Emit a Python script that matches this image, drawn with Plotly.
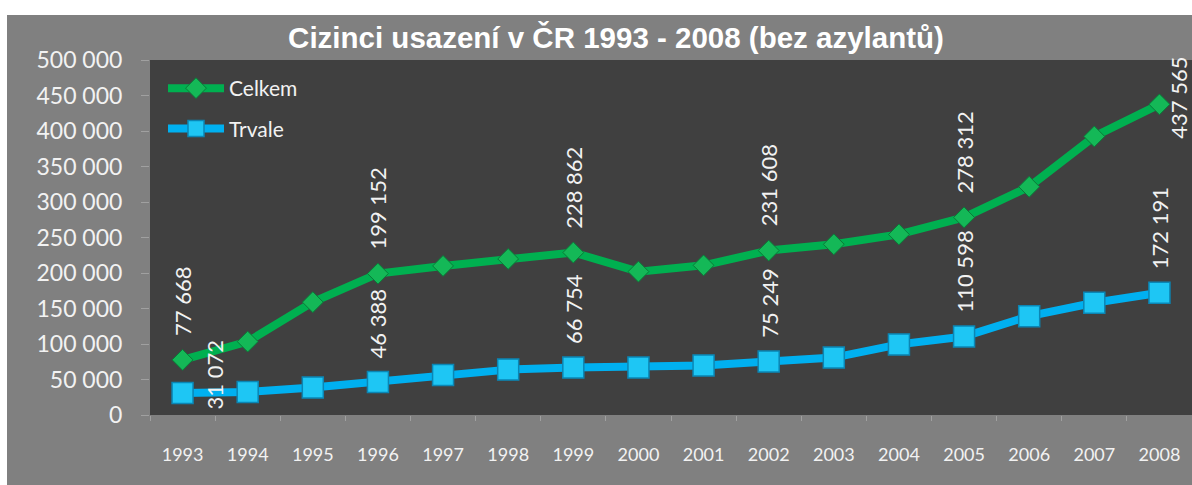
import plotly.graph_objects as go

years = [str(y) for y in range(1993, 2009)]
celkem = [77668, 103401, 158974, 199152, 209957, 219832, 228862, 201951,
          210794, 231608, 240421, 254294, 278312, 321456, 392315, 437565]
trvale = [31072, 32467, 38601, 46388, 56211, 63919, 66754, 66891,
          69816, 75249, 80844, 99467, 110598, 139185, 158090, 172191]
label_years = ["1993", "1996", "1999", "2002", "2005", "2008"]
y_ticks = list(range(0, 500001, 50000))

title_text = "Cizinci usazení v ČR 1993 - 2008 (bez azylantů)"

W, H = 1192, 485
L, R, T, B = 150, 0, 60, 70
pw, ph = W - L - R, H - T - B


def fmt(v):
    return f"{v:,}".replace(",", " ")


fig = go.Figure()
fig.add_trace(go.Scatter(
    x=years, y=celkem, name="Celkem", mode="lines+markers",
    line=dict(color="#00B050", width=8),
    marker=dict(symbol="diamond", size=16, color="#14B857",
                line=dict(color="#0A7A38", width=1)),
    legendgroup="a"))
fig.add_trace(go.Scatter(
    x=years, y=trvale, name="Trvale", mode="lines+markers",
    line=dict(color="#00B0F0", width=8),
    marker=dict(symbol="square", size=21, color="#1EC6F4",
                line=dict(color="#0A86B5", width=1.5)),
    legendgroup="b"))

label_font = dict(family="Lato", size=22, color="#F2F2F2")
annotations = []
for yr in label_years:
    i = years.index(yr)  # category index on the x axis
    if yr == "2008":
        annotations.append(dict(x=i, y=celkem[i], text=fmt(celkem[i]), textangle=-90,
                                showarrow=False, xanchor="center", yanchor="middle",
                                xshift=19, yshift=7, font=label_font))
    else:
        annotations.append(dict(x=i, y=celkem[i], text=fmt(celkem[i]), textangle=-90,
                                showarrow=False, xanchor="center", yanchor="bottom",
                                yshift=22, font=label_font))
    if yr == "1993":
        annotations.append(dict(x=i, y=trvale[i], text=fmt(trvale[i]), textangle=-90,
                                showarrow=False, xanchor="center", yanchor="middle",
                                xshift=32, yshift=18, font=label_font))
    else:
        annotations.append(dict(x=i, y=trvale[i], text=fmt(trvale[i]), textangle=-90,
                                showarrow=False, xanchor="center", yanchor="bottom",
                                yshift=22, font=label_font))

px = lambda p: (p - L) / pw
py = lambda p: (H - B - p) / ph
shapes = [
    dict(type="rect", xref="paper", yref="paper", x0=px(-20), x1=px(W + 20),
         y0=py(15), y1=py(-20), fillcolor="white", line=dict(width=0), layer="below"),
    dict(type="rect", xref="paper", yref="paper", x0=px(-20), x1=px(7),
         y0=py(H + 20), y1=py(-20), fillcolor="white", line=dict(width=0), layer="below"),
]

fig.update_layout(
    width=W, height=H,
    margin=dict(l=L, r=R, t=T, b=B, autoexpand=False),
    paper_bgcolor="#808080",
    plot_bgcolor="#404040",
    separators=", ",
    title=dict(text=title_text, x=616 / W, xanchor="center", y=1 - 38 / H, yanchor="middle",
               font=dict(family="Liberation Sans", size=29.5, color="white", weight="bold")),
    showlegend=True,
    legend=dict(x=px(163), y=py(68), xanchor="left", yanchor="top",
                bgcolor="rgba(0,0,0,0)", font=dict(family="Lato", size=21, color="#F2F2F2"),
                tracegroupgap=10, traceorder="grouped", itemwidth=56),
    xaxis=dict(type="category", range=[-0.5, 15.5], showgrid=False, zeroline=False,
               ticks="outside", tickson="boundaries", ticklen=5, tickcolor="#A0A0A0",
               tickfont=dict(family="Lato", size=18, color="#F2F2F2"),
               ticklabelstandoff=27, showline=False),
    yaxis=dict(range=[0, 500000], tickvals=y_ticks, tickformat=",d", showgrid=False,
               zeroline=False, ticks="outside", ticklen=8, tickcolor="#A0A0A0",
               tickfont=dict(family="Lato", size=23, color="#F2F2F2"),
               ticklabelstandoff=14, showline=False),
    annotations=annotations,
    shapes=shapes,
)

fig.write_html("out.html", config={"displayModeBar": False},
               post_script="document.body.style.margin='0';document.body.style.overflow='hidden';")
